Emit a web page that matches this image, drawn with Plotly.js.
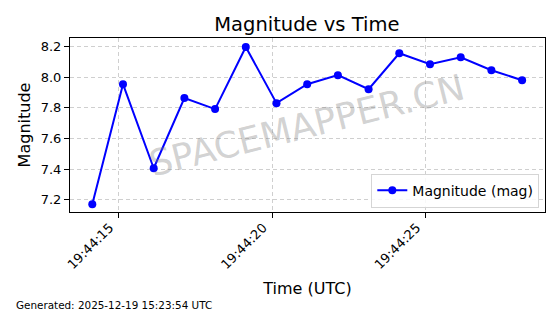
<!DOCTYPE html>
<html>
<head>
<meta charset="utf-8">
<script src="https://cdn.plot.ly/plotly-3.0.1.min.js"></script>
<style>html,body{margin:0;padding:0;background:#fff;}#chart{width:560px;height:314px;}</style>
</head>
<body>
<div id="chart"></div>
<script>
const times = [
  "2025-12-19 19:44:14.14", "2025-12-19 19:44:15.14", "2025-12-19 19:44:16.14",
  "2025-12-19 19:44:17.14", "2025-12-19 19:44:18.14", "2025-12-19 19:44:19.14",
  "2025-12-19 19:44:20.14", "2025-12-19 19:44:21.14", "2025-12-19 19:44:22.14",
  "2025-12-19 19:44:23.14", "2025-12-19 19:44:24.14", "2025-12-19 19:44:25.14",
  "2025-12-19 19:44:26.14", "2025-12-19 19:44:27.14", "2025-12-19 19:44:28.14"
];
const magnitudes = [7.17, 7.955, 7.405, 7.864, 7.792, 8.198, 7.831, 7.955, 8.014, 7.922, 8.157, 8.085, 8.131, 8.046, 7.981];
const seriesName = "Magnitude (mag)";
const xRange = ["2025-12-19 19:44:13.414", "2025-12-19 19:44:28.886"];
const yRange = [7.119, 8.257];

const font = "DejaVu Sans, sans-serif";
const trace = {
  x: times, y: magnitudes, type: "scatter", mode: "lines+markers",
  name: seriesName,
  line: {color: "#0000ff", width: 2},
  marker: {color: "#0000ff", size: 8},
  showlegend: true
};
const layout = {
  width: 560, height: 314,
  margin: {l: 70, r: 15, t: 38, b: 102},
  paper_bgcolor: "#ffffff", plot_bgcolor: "#ffffff",
  font: {family: font, color: "#000"},
  title: {text: "Magnitude vs Time", font: {size: 19.5, family: font, color: "#000"}, x: 0.548, xanchor: "center", y: 0.922, yanchor: "middle"},
  xaxis: {
    type: "date", range: xRange,
    tick0: "2025-12-19 19:44:15", dtick: 5000, tickformat: "%H:%M:%S",
    tickangle: -45, tickfont: {size: 13, family: font},
    ticklabelshift: -9, ticklabelstandoff: -3,
    ticks: "outside", ticklen: 5, tickcolor: "#000",
    showgrid: true, gridcolor: "#cfcfcf", griddash: "4px,3px", gridwidth: 1,
    showline: true, linecolor: "#000", linewidth: 1, mirror: true,
    zeroline: false,
    title: {text: "Time (UTC)", font: {size: 16, family: font}, standoff: 11}
  },
  yaxis: {
    range: yRange, dtick: 0.2, tick0: 7.2, tickformat: ".1f",
    tickfont: {size: 13, family: font},
    ticks: "outside", ticklen: 5, tickcolor: "#000",
    showgrid: true, gridcolor: "#cfcfcf", griddash: "4px,3px", gridwidth: 1,
    showline: true, linecolor: "#000", linewidth: 1, mirror: true,
    zeroline: false,
    title: {text: "Magnitude", font: {size: 16, family: font}, standoff: 6}
  },
  legend: {
    x: 0.988, xanchor: "right", y: 0.025, yanchor: "bottom",
    bgcolor: "rgba(255,255,255,0.85)", bordercolor: "#d5d5d5", borderwidth: 1,
    font: {size: 14, family: font}
  },
  annotations: [
    {text: "SPACEMAPPER.CN", xref: "paper", yref: "paper", x: 0.497, y: 0.5,
     showarrow: false, textangle: -14, font: {size: 36, family: font, color: "rgba(128,128,128,0.36)"}},
    {text: "Generated: 2025-12-19 15:23:54 UTC", xref: "paper", yref: "paper",
     x: -0.117, y: -0.535, xanchor: "left", yanchor: "middle", showarrow: false,
     font: {size: 10.4, family: font, color: "#000"}}
  ]
};
Plotly.newPlot("chart", [trace], layout, {displayModeBar: false, staticPlot: true});
</script>
</body>
</html>
